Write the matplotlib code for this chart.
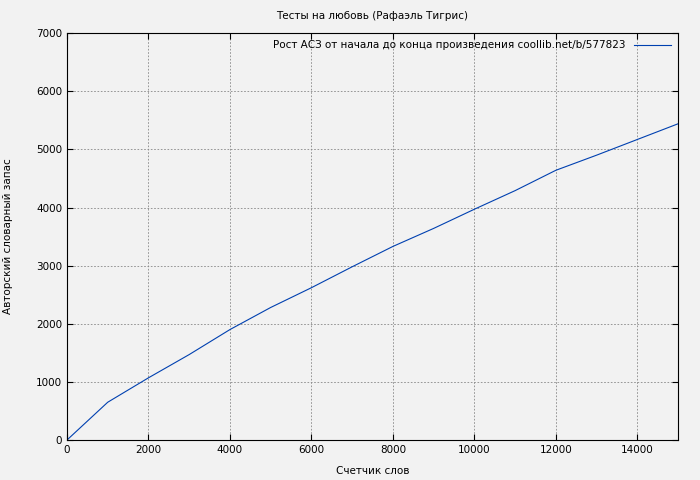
import matplotlib
matplotlib.use("Agg")
import matplotlib.pyplot as plt

words = [0, 1000, 2000, 3000, 4000, 5000, 6000, 7000, 8000, 9000, 10000, 11000, 12000, 13000, 14000, 15000]
vocab = [0, 650, 1070, 1470, 1900, 2280, 2620, 2980, 3330, 3640, 3970, 4290, 4640, 4900, 5170, 5440]
label = "Рост АСЗ от начала до конца произведения coollib.net/b/577823"

plt.rcParams['font.family'] = ['DejaVu Sans']
plt.rcParams['font.size'] = 7.5
fig = plt.figure(figsize=(7, 4.8), dpi=100, facecolor='#f2f2f2')
ax = fig.add_axes([0.0957, 0.0833, 0.8729, 0.8477])
ax.set_facecolor('#f2f2f2')
ax.plot(words, vocab, color='#0040b0', lw=0.8, label=label)
ax.set_xlim(0, 15000)
ax.set_ylim(0, 7000)
ax.set_xticks(range(0, 15001, 2000))
ax.set_yticks(range(0, 7001, 1000))
ax.grid(True, color='#888888', ls=(0, (2, 2)), lw=0.6)
ax.tick_params(direction='in', length=4, top=True, right=True)
ax.set_title("Тесты на любовь (Рафаэль Тигрис)", fontsize=7.5, pad=10)
ax.set_xlabel("Счетчик слов", labelpad=8)
ax.set_ylabel("Авторский словарный запас", labelpad=12)
ax.yaxis.set_label_coords(-0.088, 0.5)
ax.legend(loc='upper right', frameon=False, markerfirst=False, handlelength=3.5, borderaxespad=0.3)
fig.savefig("out.png", dpi=100, facecolor='#f2f2f2')
